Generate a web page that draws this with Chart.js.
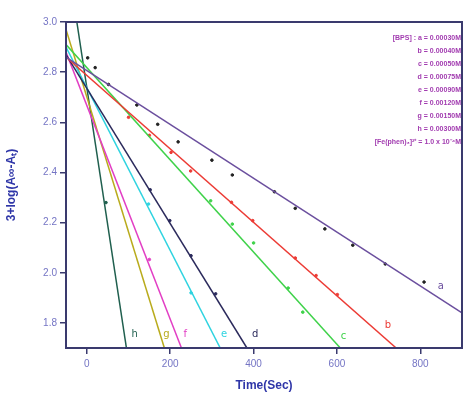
<!DOCTYPE html>
<html>
<head>
<meta charset="utf-8">
<script src="https://cdn.jsdelivr.net/npm/chart.js@4"></script>
<style>
  html, body { margin: 0; padding: 0; background: #fff; }
  #wrap { width: 467px; height: 397px; }
</style>
</head>
<body>
<div id="wrap"><canvas id="grafico"></canvas></div>
<script>
// tick dei due assi
const xTicks = [0, 200, 400, 600, 800];
const yTicks = [1.8, 2.0, 2.2, 2.4, 2.6, 2.8, 3.0];

// rette di regressione (inizio e fine)
const nomi = ['a', 'b', 'c', 'd', 'e', 'f', 'g', 'h'];
const colori = ['#6b4f9e', '#ec3b35', '#3fd24a', '#2b2a5c', '#2fd3e0', '#e23ec4', '#b9ab1c', '#1f5f4e'];
const retteX = [
  [-50, 900], [-50, 742], [-50, 608], [-50, 384],
  [-50, 320], [-50, 227], [-50, 186], [-24, 95]
];
const retteY = [
  [2.86, 1.84], [2.86, 1.70], [2.91, 1.70], [2.87, 1.70],
  [2.90, 1.70], [2.88, 1.70], [2.97, 1.70], [3.00, 1.70]
];

// punti sperimentali
const puntiAx = [2, 20, 52, 120, 170, 219, 300, 349, 450, 500, 571, 638, 716, 809];
const puntiAy = [2.857, 2.818, 2.751, 2.669, 2.592, 2.522, 2.449, 2.39, 2.323, 2.257, 2.175, 2.11, 2.035, 1.963];
const puntiBx = [100, 150, 202, 249, 347, 398, 500, 550, 601];
const puntiBy = [2.62, 2.548, 2.48, 2.406, 2.281, 2.208, 2.059, 1.989, 1.913];
const puntiCx = [297, 349, 400, 483, 518];
const puntiCy = [2.287, 2.194, 2.119, 1.939, 1.843];
const puntiDx = [152, 199, 250, 309];
const puntiDy = [2.331, 2.208, 2.068, 1.916];
const puntiEx = [148, 250];
const puntiEy = [2.274, 1.92];
const puntiFx = [150];
const puntiFy = [2.053];
const puntiHx = [46];
const puntiHy = [2.28];

// posizioni delle lettere accanto alle rette
const lettereX = [849, 722, 616, 404, 329, 236, 191, 115];
const lettereY = [1.947, 1.789, 1.745, 1.753, 1.753, 1.753, 1.753, 1.753];

// testo della legenda in alto a destra
const legenda = [
  '[BPS] : a = 0.00030M',
  'b = 0.00040M',
  'c = 0.00050M',
  'd = 0.00075M',
  'e = 0.00090M',
  'f = 0.00120M',
  'g = 0.00150M',
  'h = 0.00300M',
  '[Fe(phen)\u2083]\u00B2\u207A = 1.0 x 10\u207B\u2074M'
];

function coppie(xs, ys) {
  return xs.map((x, i) => ({ x: x, y: ys[i] }));
}

let datasets = [];
for (let i = 0; i < nomi.length; i++) {
  datasets.push({
    label: nomi[i],
    data: coppie(retteX[i], retteY[i]),
    showLine: true,
    borderColor: colori[i],
    borderWidth: 1.5,
    pointRadius: 0,
    fill: false
  });
}
const punti = [
  [puntiAx, puntiAy, '#222222'],
  [puntiBx, puntiBy, colori[1]],
  [puntiCx, puntiCy, colori[2]],
  [puntiDx, puntiDy, colori[3]],
  [puntiEx, puntiEy, colori[4]],
  [puntiFx, puntiFy, colori[5]],
  [puntiHx, puntiHy, colori[7]]
];
punti.forEach(p => {
  datasets.push({
    data: coppie(p[0], p[1]),
    showLine: false,
    pointRadius: 1.3,
    pointBackgroundColor: p[2],
    pointBorderColor: p[2]
  });
});

// cornice, lettere e legenda
const decorazioni = {
  id: 'decorazioni',
  afterDraw(chart) {
    const ctx = chart.ctx;
    const a = chart.chartArea;
    const sx = chart.scales.x, sy = chart.scales.y;
    ctx.save();
    ctx.strokeStyle = '#3a3a6e';
    ctx.lineWidth = 2;
    ctx.strokeRect(a.left, a.top, a.right - a.left, a.bottom - a.top);

    ctx.font = '10px "DejaVu Sans", sans-serif';
    ctx.textAlign = 'center';
    ctx.textBaseline = 'middle';
    for (let i = 0; i < nomi.length; i++) {
      ctx.fillStyle = colori[i];
      ctx.fillText(nomi[i], sx.getPixelForValue(lettereX[i]), sy.getPixelForValue(lettereY[i]));
    }

    ctx.font = 'bold 7px "Liberation Sans", sans-serif';
    ctx.textAlign = 'right';
    ctx.fillStyle = '#a23cb0';
    legenda.forEach((t, i) => {
      ctx.fillText(t, 461, 38 + i * 13);
    });
    ctx.restore();
  }
};

new Chart(document.getElementById('grafico'), {
  type: 'scatter',
  data: { datasets: datasets },
  options: {
    responsive: true,
    maintainAspectRatio: false,
    animation: false,
    layout: { padding: { top: 22, right: 1, left: 0, bottom: 0 } },
    plugins: { legend: { display: false }, tooltip: { enabled: false } },
    scales: {
      x: {
        type: 'linear',
        min: -50,
        max: 900,
        afterBuildTicks: s => { s.ticks = xTicks.map(v => ({ value: v })); },
        afterFit: s => { s.height = 49; },
        grid: { drawOnChartArea: false, tickLength: 6, color: '#3a3a6e', lineWidth: 1.5 },
        border: { display: false },
        ticks: { color: '#7474c4', font: { size: 10, family: 'Arial, "Liberation Sans"' }, padding: 4 },
        title: { display: true, text: 'Time(Sec)', color: '#2f36a8',
                 font: { size: 12, weight: 'bold', family: 'Arial, "Liberation Sans"' }, padding: { top: 3 } }
      },
      y: {
        type: 'linear',
        min: 1.7,
        max: 3.0,
        afterBuildTicks: s => { s.ticks = yTicks.map(v => ({ value: v })); },
        afterFit: s => { s.width = 66; },
        grid: { drawOnChartArea: false, tickLength: 6, color: '#3a3a6e', lineWidth: 1.5 },
        border: { display: false },
        ticks: { color: '#7474c4', font: { size: 10, family: 'Arial, "Liberation Sans"' }, padding: 3,
                 callback: v => v.toFixed(1) },
        title: { display: true, text: '3+log(A\u221E-A\u209C)', color: '#2f36a8',
                 font: { size: 12, weight: 'bold', family: 'Arial, "Liberation Sans"' }, padding: { bottom: 2 } }
      }
    }
  },
  plugins: [decorazioni]
});
</script>
</body>
</html>
